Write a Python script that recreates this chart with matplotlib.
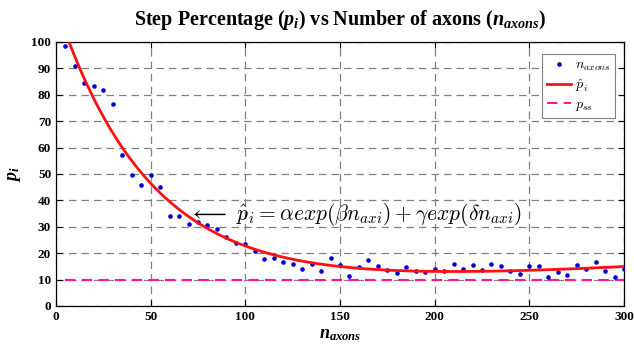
import numpy as np
import matplotlib
matplotlib.use("Agg")
import matplotlib.pyplot as plt

# ---- data ----
n_axons = [5, 10, 15, 20, 25, 30, 35, 40, 45, 50, 55, 60, 65, 70, 75, 80, 85, 90, 95, 100,
           105, 110, 115, 120, 125, 130, 135, 140, 145, 150, 155, 160, 165, 170, 175, 180,
           185, 190, 195, 200, 205, 210, 215, 220, 225, 230, 235, 240, 245, 250, 255, 260,
           265, 270, 275, 280, 285, 290, 295, 300]
p_i = [98.5, 91.0, 84.4, 83.3, 81.8, 76.4, 57.3, 49.7, 46.0, 49.5, 45.0, 34.2, 34.1, 31.2,
       31.9, 30.7, 29.0, 26.1, 23.7, 23.6, 20.8, 17.7, 18.2, 16.7, 15.9, 14.0, 15.9, 13.3,
       18.3, 15.7, 11.4, 14.8, 17.3, 15.3, 13.6, 12.5, 14.9, 13.3, 12.8, 13.9, 13.3, 15.9,
       13.9, 15.7, 13.6, 15.9, 15.0, 13.4, 12.0, 15.3, 15.3, 11.1, 13.0, 11.7, 15.5, 14.1,
       16.5, 13.4, 10.9, 14.1]
p_ss = 10.0
x_ticks = [0, 50, 100, 150, 200, 250, 300]
y_ticks = [0, 10, 20, 30, 40, 50, 60, 70, 80, 90, 100]

x = np.array(n_axons, dtype=float)
y = np.array(p_i, dtype=float)

# double exponential least-squares fit: a*exp(b x) + c*exp(d x)
best = None
for b in np.linspace(-0.05, -0.005, 181):
    for d in np.linspace(-0.002, 0.004, 121):
        M = np.column_stack([np.exp(b * x), np.exp(d * x)])
        coef, *_ = np.linalg.lstsq(M, y, rcond=None)
        sse = np.sum((M @ coef - y) ** 2)
        if best is None or sse < best[0]:
            best = (sse, b, d, coef)
_, b, d, (a, c) = best
xf = np.linspace(min(n_axons), max(n_axons), 400)
yf = a * np.exp(b * xf) + c * np.exp(d * xf)

plt.rcParams['font.family'] = 'Liberation Serif'
plt.rcParams['mathtext.fontset'] = 'custom'
plt.rcParams['mathtext.rm'] = 'Liberation Serif:bold'
plt.rcParams['mathtext.it'] = 'Liberation Serif:bold:italic'
plt.rcParams['mathtext.bf'] = 'Liberation Serif:bold'

fig = plt.figure(figsize=(6.34, 3.55), dpi=100)
ax = fig.add_axes([56/634, 49/355, 568/634, 264/355])

ax.plot(x, y, 'o', color='#0000d0', markersize=3.3, markeredgewidth=0, label=r'$n_{axons}$', zorder=3)
ax.plot(xf, yf, '-', color='#ff1010', linewidth=2, label=r'$\hat{p}_i$', zorder=4)
ax.plot([min(n_axons), max(n_axons)], [p_ss, p_ss], '--', color='#ff1493', linewidth=1.5,
        dashes=(5, 3), label=r'$p_{ss}$', zorder=2)

ax.set_xlim(0, 300)
ax.set_ylim(0, 100)
ax.set_xticks(x_ticks)
ax.set_yticks(y_ticks)
ax.grid(True, color='#808080', linestyle=(0, (6, 4)), linewidth=0.9)
ax.tick_params(direction='in', top=True, right=True, length=4, labelsize=9.5, width=0.8)
for lbl in ax.get_xticklabels() + ax.get_yticklabels():
    lbl.set_fontweight('bold')
for s in ax.spines.values():
    s.set_linewidth(0.9)

ax.set_xlabel(r'$n_{axons}$', fontsize=13, labelpad=2)
ax.set_ylabel(r'$p_i$', fontsize=13, labelpad=6)
ax.set_title(r'Step Percentage ($p_i$) vs Number of axons ($n_{axons}$)',
             fontsize=14.5, fontweight='bold', pad=12)

t = ax.text(70, 34.5, r'$\longleftarrow\ \hat{p}_i = \alpha exp(\beta n_{axi}) + \gamma exp(\delta n_{axi})$',
            fontsize=15.5, va='center', ha='left', zorder=5)
t.set_math_fontfamily('cm')

leg = ax.legend(loc='upper right', fontsize=10, frameon=True, fancybox=False,
                edgecolor='#808080', framealpha=1, handlelength=1.7, borderpad=0.35,
                labelspacing=0.3, handletextpad=0.3, borderaxespad=0,
                bbox_to_anchor=(0.985, 0.955))
for tx in leg.get_texts():
    tx.set_math_fontfamily('cm')
leg.get_frame().set_linewidth(0.8)

fig.savefig('out.png', dpi=100)
